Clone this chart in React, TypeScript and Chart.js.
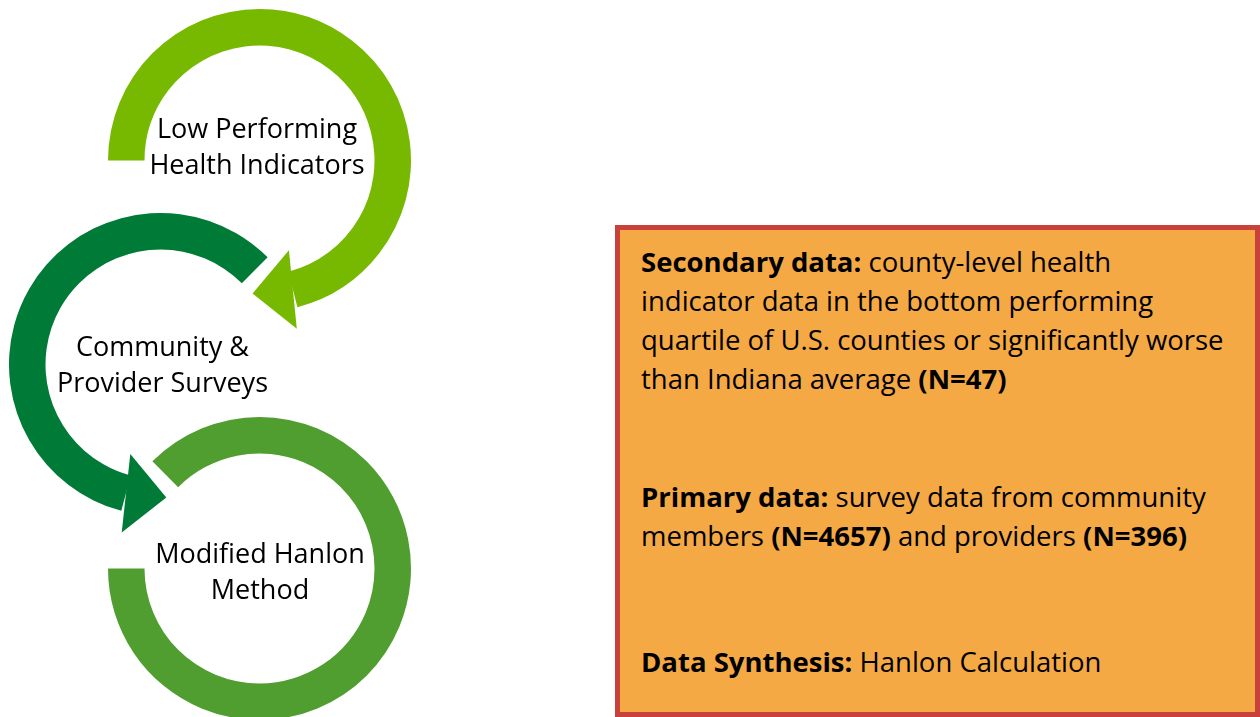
import React, { useEffect, useRef } from "react";
import { Chart, registerables } from "chart.js";

Chart.register(...registerables);

// ---- data ----
const stepNames = ["Low Performing Health Indicators", "Community & Provider Surveys", "Modified Hanlon Method"];
const stepLabelLines = [
  ["Low Performing", "Health Indicators"],
  ["Community &", "Provider Surveys"],
  ["Modified Hanlon", "Method"],
];
const arcStartDeg = [270, 195, 315];
const arcSweepDeg = [255.5, 210, 315];
const arrowAt = ["end", "start", "none"];
const ringColors = ["#77B900", "#007A37", "#509E2F"];

// ---- layout ----
const ringCenters = [
  [259.5, 160.5],
  [160.5, 364.5],
  [259.5, 568.5],
];
const labelShiftX = [-2.5, 2, 0.5];
const labelBaselines = [
  [-22.5, 13.5],
  [-9, 27],
  [-5.5, 30.5],
];
const OUTER_R = 151.5;
const INNER_R = 115;
const CANVAS = 381;

const ringDecor = {
  id: "ringDecor",
  afterDatasetsDraw(chart: any, _args: any, opts: any) {
    const arc = chart.getDatasetMeta(0).data[0];
    if (!arc) return;
    const { x, y, startAngle, endAngle, innerRadius, outerRadius } = arc.getProps(
      ["x", "y", "startAngle", "endAngle", "innerRadius", "outerRadius"],
      true
    );
    const ctx = chart.ctx;
    const rm = (innerRadius + outerRadius) / 2;
    const band = outerRadius - innerRadius;
    ctx.save();
    if (opts.arrow === "end" || opts.arrow === "start") {
      const dir = opts.arrow === "end" ? 1 : -1;
      const a0 = opts.arrow === "end" ? endAngle : startAngle;
      const a1 = a0 + (dir * opts.headAngle * Math.PI) / 180;
      const am = (a0 + a1) / 2;
      const hw = band * opts.headRatio;
      const bx = x + rm * Math.cos(a0);
      const by = y + rm * Math.sin(a0);
      const tx = x + rm * Math.cos(a1);
      const ty = y + rm * Math.sin(a1);
      ctx.fillStyle = opts.color;
      ctx.beginPath();
      ctx.moveTo(bx + hw * Math.cos(am), by + hw * Math.sin(am));
      ctx.lineTo(tx, ty);
      ctx.lineTo(bx - hw * Math.cos(am), by - hw * Math.sin(am));
      ctx.closePath();
      ctx.fill();
    }
    ctx.fillStyle = "#000";
    ctx.font = "27px 'Open Sans'";
    ctx.textAlign = "center";
    ctx.textBaseline = "alphabetic";
    (opts.lines as string[]).forEach((line, i) => {
      ctx.fillText(line, x + opts.shiftX, y + opts.baselines[i]);
    });
    ctx.restore();
  },
};

function Ring({ index }: { index: number }) {
  const ref = useRef<HTMLCanvasElement | null>(null);
  useEffect(() => {
    if (!ref.current) return;
    const sweep = arcSweepDeg[index];
    const chart = new Chart(ref.current, {
      type: "doughnut",
      data: {
        labels: [stepNames[index], ""],
        datasets: [
          {
            data: [sweep, 360 - sweep],
            backgroundColor: [ringColors[index], "rgba(0,0,0,0)"],
            borderWidth: 0,
            hoverOffset: 0,
          },
        ],
      },
      options: {
        responsive: false,
        animation: false,
        events: [],
        rotation: arcStartDeg[index],
        circumference: 360,
        radius: OUTER_R,
        cutout: `${(INNER_R / OUTER_R) * 100}%`,
        layout: { padding: 0 },
        plugins: {
          legend: { display: false },
          tooltip: { enabled: false },
          ringDecor: {
            arrow: arrowAt[index],
            color: ringColors[index],
            headAngle: 17.5,
            headRatio: 1.08,
            lines: stepLabelLines[index],
            baselines: labelBaselines[index],
            shiftX: labelShiftX[index],
          },
        } as any,
      },
      plugins: [ringDecor],
    });
    return () => chart.destroy();
  }, [index]);
  const [cx, cy] = ringCenters[index];
  return (
    <canvas
      ref={ref}
      width={CANVAS}
      height={CANVAS}
      style={{
        position: "absolute",
        left: cx - CANVAS / 2,
        top: cy - CANVAS / 2,
        width: CANVAS,
        height: CANVAS,
      }}
    />
  );
}

const boxFont = "'Open Sans', sans-serif";

export default function App() {
  const para: React.CSSProperties = {
    position: "absolute",
    left: 641,
    margin: 0,
    fontFamily: boxFont,
    fontSize: 27.5,
    lineHeight: "39px",
    color: "#000",
    whiteSpace: "nowrap",
  };
  return (
    <div
      style={{
        position: "absolute",
        left: 0,
        top: 0,
        width: 1260,
        height: 717,
        overflow: "hidden",
        background: "#fff",
      }}
    >
      <Ring index={0} />
      <Ring index={1} />
      <Ring index={2} />
      <div
        style={{
          position: "absolute",
          left: 615,
          top: 225,
          width: 645,
          height: 492,
          boxSizing: "border-box",
          border: "5px solid #C8413A",
          background: "#F4A944",
        }}
      />
      <div style={{ ...para, top: 242 }}>
        <b>Secondary data:</b> county-level health
        <br />
        indicator data in the bottom performing
        <br />
        quartile of U.S. counties or significantly worse
        <br />
        than Indiana average <b>(N=47)</b>
      </div>
      <div style={{ ...para, top: 477 }}>
        <b>Primary data:</b> survey data from community
        <br />
        members <b>(N=4657)</b> and providers <b>(N=396)</b>
      </div>
      <div style={{ ...para, top: 642 }}>
        <b>Data Synthesis:</b> Hanlon Calculation
      </div>
    </div>
  );
}
